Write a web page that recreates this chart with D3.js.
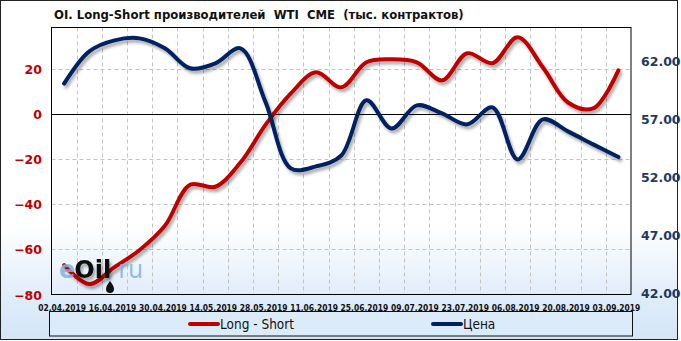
<!DOCTYPE html>
<html>
<head>
<meta charset="utf-8">
<script src="https://cdn.jsdelivr.net/npm/d3@7"></script>
<style>
  body { margin: 0; padding: 0; background: #fff; }
  svg { display: block; }
</style>
</head>
<body>
<svg width="681" height="341"></svg>
<script>
// weekly report dates
var dates = ["02.04.2019","09.04.2019","16.04.2019","23.04.2019","30.04.2019","07.05.2019",
  "14.05.2019","21.05.2019","28.05.2019","04.06.2019","11.06.2019","18.06.2019","25.06.2019",
  "02.07.2019","09.07.2019","16.07.2019","23.07.2019","30.07.2019","06.08.2019","13.08.2019",
  "20.08.2019","27.08.2019","03.09.2019"];
// Long - Short, thousand contracts
var longShort = [-67.0,-75.4,-67.9,-60.3,-49.6,-31.4,-32.3,-21.6,-4.8,9.0,18.4,11.7,22.8,
  24.1,22.8,14.8,26.8,22.4,33.9,20.6,5.0,2.4,19.2];
// WTI price
var price = [60.24,63.04,63.99,64.16,63.30,61.57,62.00,63.30,58.62,52.91,53.08,54.03,58.80,
  56.37,58.36,57.67,56.72,58.19,53.69,57.15,56.11,54.99,53.89];
var leftTicks = [-80,-60,-40,-20,0,20];
var rightTicks = [42,47,52,57,62];
var title = "OI. Long-Short производителей  WTI  CME  (тыс. контрактов)";

var svg = d3.select("svg");
var plot = {left: 51.5, right: 631, top: 27.5, bottom: 294.5};

var defs = svg.append("defs");
var bg = defs.append("linearGradient").attr("id", "bg")
  .attr("x1", 0).attr("x2", 0).attr("y1", 0).attr("y2", 1);
bg.append("stop").attr("offset", "0%").attr("stop-color", "#ffffff");
bg.append("stop").attr("offset", "66%").attr("stop-color", "#ffffff");
bg.append("stop").attr("offset", "88%").attr("stop-color", "#dfecfa");
bg.append("stop").attr("offset", "100%").attr("stop-color", "#d4e5f8");

var shadow = defs.append("filter").attr("id", "shadow")
  .attr("x", "-10%").attr("y", "-10%").attr("width", "120%").attr("height", "130%");
shadow.append("feDropShadow").attr("dx", 2).attr("dy", 3).attr("stdDeviation", 1.6)
  .attr("flood-color", "#000").attr("flood-opacity", 0.33);

svg.append("rect").attr("x", 0.5).attr("y", 0.5).attr("width", 677).attr("height", 339)
  .attr("fill", "url(#bg)").attr("stroke", "#222").attr("stroke-width", 1);

// title
var t = svg.append("text").attr("x", 54).attr("y", 19)
  .style("white-space", "pre")
  .attr("font-family", "'DejaVu Sans Condensed', 'DejaVu Sans'")
  .attr("font-weight", "bold").attr("font-size", 13).attr("fill", "#111")
  .text(title);
var tw = t.node().getComputedTextLength();
t.attr("font-size", 13 * 410 / tw);

var x = d3.scaleBand().domain(dates).range([plot.left, plot.right]).paddingInner(0).paddingOuter(0);
var bw = x.bandwidth();
var cx = function(d) { return x(d) + bw / 2; };
var yL = d3.scaleLinear().domain([-80, 38.2]).range([plot.bottom, plot.top]);
var yR = d3.scaleLinear().domain([42, 65.1]).range([plot.bottom, plot.top]);

// grid
var grid = svg.append("g").attr("stroke", "#c4c4c4").attr("stroke-dasharray", "4,3").attr("stroke-width", 1);
grid.selectAll("line.v").data(dates.slice(1)).enter().append("line")
  .attr("x1", function(d) { return Math.round(x(d)) + 0.5; })
  .attr("x2", function(d) { return Math.round(x(d)) + 0.5; })
  .attr("y1", plot.top).attr("y2", plot.bottom);
grid.selectAll("line.h").data(leftTicks.filter(function(v) { return v !== 0 && v !== -80; }))
  .enter().append("line")
  .attr("x1", plot.left).attr("x2", plot.right)
  .attr("y1", function(v) { return Math.round(yL(v)) + 0.5; })
  .attr("y2", function(v) { return Math.round(yL(v)) + 0.5; });

// zero line
svg.append("line").attr("x1", plot.left).attr("x2", plot.right)
  .attr("y1", Math.round(yL(0)) + 0.5).attr("y2", Math.round(yL(0)) + 0.5)
  .attr("stroke", "#000").attr("stroke-width", 1);

// plot frame
svg.append("rect").attr("x", plot.left).attr("y", plot.top)
  .attr("width", plot.right - plot.left).attr("height", plot.bottom - plot.top)
  .attr("fill", "none").attr("stroke", "#000").attr("stroke-width", 1);

// axes
var axL = svg.append("g").attr("transform", "translate(" + 42 + ",0)")
  .call(d3.axisLeft(yL).tickValues(leftTicks).tickSize(0).tickPadding(0).tickFormat(d3.format("d")));
axL.select(".domain").remove();
axL.selectAll("text").attr("font-family", "'DejaVu Sans'").attr("font-weight", "bold")
  .attr("font-size", 12.5).attr("fill", "#c00000").attr("dy", "0.36em");

var axR = svg.append("g").attr("transform", "translate(" + 641 + ",0)")
  .call(d3.axisRight(yR).tickValues(rightTicks).tickSize(0).tickPadding(0).tickFormat(d3.format(".2f")));
axR.select(".domain").remove();
axR.selectAll("text").attr("font-family", "'DejaVu Sans'").attr("font-weight", "bold")
  .attr("font-size", 12.5).attr("fill", "#1f3864").attr("dy", "0.2em");

var axX = svg.append("g").attr("transform", "translate(0," + plot.bottom + ")")
  .call(d3.axisBottom(x).tickValues(dates.filter(function(d, i) { return i % 2 === 0; }))
    .tickSize(0).tickPadding(11));
axX.select(".domain").remove();
axX.selectAll("text").attr("font-family", "'DejaVu Sans Condensed'").attr("font-weight", "bold")
  .attr("font-size", 8.4).attr("fill", "#111").attr("dx", -2);

// series
var lineL = d3.line().x(function(d, i) { return cx(dates[i]); }).y(function(d) { return yL(d); })
  .curve(d3.curveCatmullRom.alpha(0.5));
var lineR = d3.line().x(function(d, i) { return cx(dates[i]); }).y(function(d) { return yR(d); })
  .curve(d3.curveCatmullRom.alpha(0.5));

svg.append("path").datum(longShort).attr("d", lineL).attr("fill", "none")
  .attr("stroke", "#c00000").attr("stroke-width", 4).attr("stroke-linecap", "round")
  .attr("filter", "url(#shadow)");
svg.append("path").datum(price).attr("d", lineR).attr("fill", "none")
  .attr("stroke", "#002060").attr("stroke-width", 4).attr("stroke-linecap", "round")
  .attr("filter", "url(#shadow)");

// watermark
var wm = svg.append("g").attr("transform", "translate(59,278)");
var wt = wm.append("text").attr("font-family", "'DejaVu Sans'").attr("font-size", 24).attr("font-weight", "bold");
wt.append("tspan").attr("fill", "#7fb2e0").attr("fill-opacity", 0.85).text("e");
wt.append("tspan").attr("fill", "#111").attr("filter", "url(#shadow)").attr("dx", -1).text("Oil");
wt.append("tspan").attr("fill", "#7fb2e0").attr("fill-opacity", 0.85).attr("font-weight", "normal").attr("dx", 7).text("ru");
wm.append("path").attr("transform", "translate(51,9)")
  .attr("d", "M0,-6 C2,-3 4,-1 4,2 A4,4 0 1 1 -4,2 C-4,-1 -2,-3 0,-6Z")
  .attr("fill", "#111");

// legend
svg.append("rect").attr("x", 49.5).attr("y", 311.5).attr("width", 583).attr("height", 24.5)
  .attr("fill", "#dcebfa").attr("stroke", "#111").attr("stroke-width", 1);
var legend = [{name: "Long - Short", color: "#c00000", x: 190}, {name: "Цена", color: "#002060", x: 433}];
var lg = svg.selectAll("g.leg").data(legend).enter().append("g")
  .attr("transform", function(d) { return "translate(" + d.x + ",324)"; });
lg.append("line").attr("x1", 0).attr("x2", 28).attr("y1", 0).attr("y2", 0)
  .attr("stroke", function(d) { return d.color; }).attr("stroke-width", 4).attr("stroke-linecap", "round");
lg.append("text").attr("x", 30).attr("dy", "0.36em")
  .attr("font-family", "'DejaVu Sans Condensed'").attr("font-size", 13.5).attr("fill", "#111")
  .text(function(d) { return d.name; });
</script>
</body>
</html>
